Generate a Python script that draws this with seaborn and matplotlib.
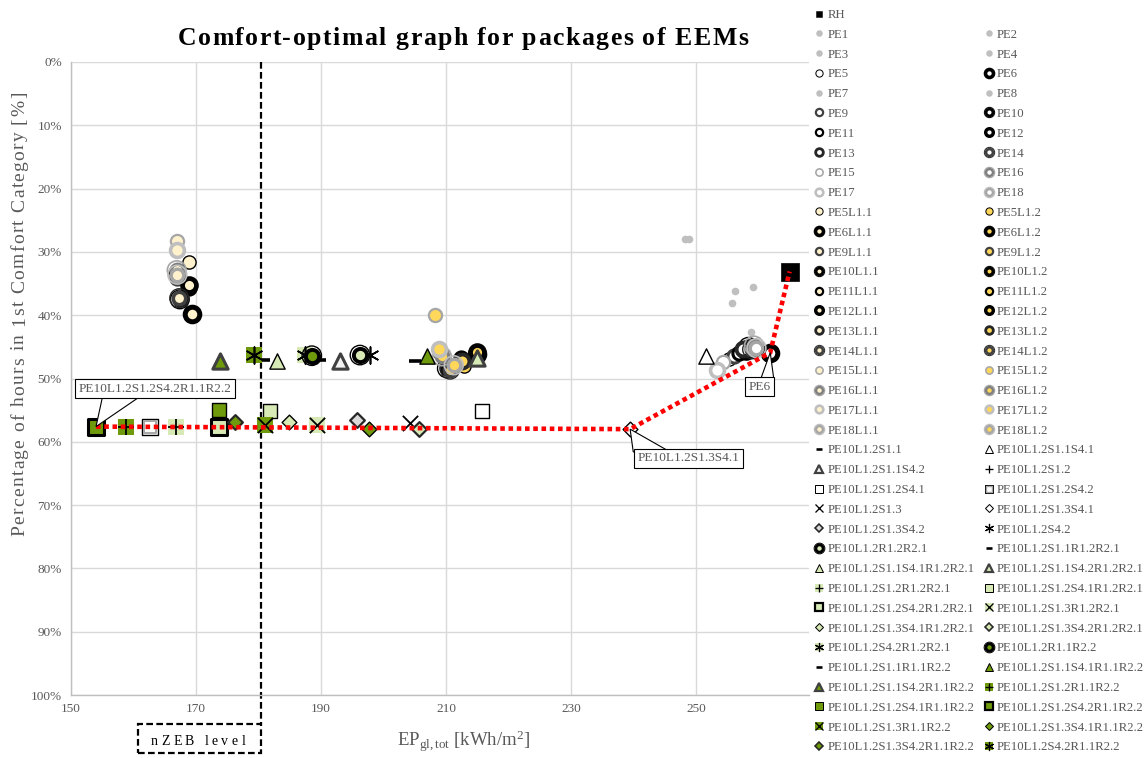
import re
import numpy as np
import pandas as pd
import matplotlib.pyplot as plt
import seaborn as sns
from matplotlib.lines import Line2D
from matplotlib.markers import MarkerStyle
from matplotlib.patches import Rectangle, Polygon

W, H = 1145, 758

# --- data: EP_gl,tot [kWh/m2] and % of hours in 1st comfort category ---
ref_names = ['RH']
ref_ep = [264.9]
ref_comfort = [33.1]

base_names = ['PE%d' % i for i in range(1, 19)]
base_ep = [248.2, 248.8, 256.1, 259.1, 255.2, 261.8, 255.7, 258.7, 256.0,
           258.3, 256.8, 258.0, 257.4, 258.9, 254.3, 259.2, 253.3, 259.6]
base_comfort = [27.9, 28.0, 36.2, 35.6, 46.9, 45.9, 38.0, 42.7, 46.4,
                45.0, 45.9, 45.6, 45.3, 45.4, 47.4, 44.8, 48.6, 45.2]

light_names = ['PE5L1.1', 'PE5L1.2', 'PE6L1.1', 'PE6L1.2', 'PE9L1.1', 'PE9L1.2',
               'PE10L1.1', 'PE10L1.2', 'PE11L1.1', 'PE11L1.2', 'PE12L1.1', 'PE12L1.2',
               'PE13L1.1', 'PE13L1.2', 'PE14L1.1', 'PE14L1.2', 'PE15L1.1', 'PE15L1.2',
               'PE16L1.1', 'PE16L1.2', 'PE17L1.1', 'PE17L1.2', 'PE18L1.1', 'PE18L1.2']
light_ep = [168.8, 212.8, 169.4, 214.9, 167.0, 209.0, 167.4, 210.1, 168.9, 212.3, 168.8, 214.9,
            167.0, 212.5, 167.3, 210.6, 166.9, 208.2, 166.9, 209.3, 166.9, 208.8, 167.0, 211.2]
light_comfort = [31.6, 48.1, 39.8, 46.2, 34.2, 45.8, 37.5, 48.4, 35.7, 46.8, 35.3, 45.8,
                 33.2, 47.3, 37.3, 48.6, 28.2, 40.0, 32.9, 46.5, 29.7, 45.4, 33.6, 47.9]

shade_codes = ['S1.1', 'S1.1S4.1', 'S1.1S4.2', 'S1.2', 'S1.2S4.1', 'S1.2S4.2',
               'S1.3', 'S1.3S4.1', 'S1.3S4.2', 'S4.2']
shade_names = ['PE10L1.2' + c for c in shade_codes]
shade_ep = [205.0, 251.6, 193.0, 162.6, 215.7, 162.6, 204.2, 239.4, 195.7, 197.8]
shade_comfort = [47.2, 46.5, 47.3, 57.6, 55.2, 57.6, 57.1, 58.0, 56.6, 46.3]

rad1_names = ['PE10L1.2' + c + 'R1.2R2.1' for c in [''] + shade_codes]
rad1_ep = [196.2, 189.8, 182.9, 214.9, 166.8, 181.8, 173.6, 189.3, 184.8, 205.6, 187.4]
rad1_comfort = [46.3, 47.1, 47.3, 46.8, 57.6, 55.2, 57.6, 57.3, 56.8, 57.9, 46.3]

rad2_names = ['PE10L1.2' + c + 'R1.1R2.2' for c in [''] + shade_codes]
rad2_ep = [188.5, 180.9, 206.9, 173.8, 158.8, 173.7, 154.0, 181.0, 197.6, 176.2, 179.2]
rad2_comfort = [46.4, 47.1, 46.5, 47.3, 57.6, 55.0, 57.6, 57.3, 57.9, 56.8, 46.3]

front_names = ['PE10L1.2S1.2S4.2R1.1R2.2', 'PE10L1.2S1.3S4.1', 'PE6', 'RH']
nzeb_level = 180.3

# callout: label, box centre (x, y), pointer base x1, x2 and y
callouts = [('PE10L1.2S1.2S4.2R1.1R2.2', 163.4, 51.6, 155.1, 161.4, 52.6),
            ('PE10L1.2S1.3S4.1', 248.7, 62.6, 239.9, 245.8, 61.6),
            ('PE6', 260.1, 51.3, 260.2, 262.4, 50.3)]

df = pd.DataFrame({
    'name': ref_names + base_names + light_names + shade_names + rad1_names + rad2_names,
    'ep': ref_ep + base_ep + light_ep + shade_ep + rad1_ep + rad2_ep,
    'comfort': ref_comfort + base_comfort + light_comfort + shade_comfort + rad1_comfort + rad2_comfort,
})

# --- marker styles (marker, size pt, face, edge, edge width) ---
LY, GOLD = '#FFF2CC', '#FFD75A'
LG, DG = '#D7EAB5', '#6E9A0C'
GREY = '#595959'

CIRCLES = {
    5: [('o', 9.5, None, 'black', 1.0)],
    6: [('o', 10.5, None, 'black', 3.6)],
    9: [('o', 9.5, None, '#404040', 2.2)],
    10: [('o', 13.5, 'none', 'black', 1.0), ('o', 9.0, None, 'black', 2.8)],
    11: [('o', 9.5, None, 'black', 2.2)],
    12: [('o', 10.0, None, 'black', 3.4)],
    13: [('o', 10.0, None, '#262626', 2.8)],
    14: [('o', 13.5, 'none', '#262626', 1.0), ('o', 9.0, None, '#404040', 2.6)],
    15: [('o', 9.5, None, '#A6A6A6', 1.6)],
    16: [('o', 13.5, 'none', '#A6A6A6', 1.2), ('o', 9.0, None, '#7F7F7F', 2.4)],
    17: [('o', 10.0, None, '#BFBFBF', 2.6)],
    18: [('o', 13.5, 'none', '#BFBFBF', 1.2), ('o', 9.0, None, '#A6A6A6', 2.4)],
}
STAR = (6, 2, 0)


def shade_layers(code, face):
    bg = [('s', 11, face, face, 0)] if face != 'white' else []
    plain = face == 'white'
    table = {
        'S1.1': [('_', 9, 'black', 'black', 2.6)],
        'S1.1S4.1': [('^', 11, face, 'black', 1.0)],
        'S1.1S4.2': [('^', 11, '#F2F2F2' if plain else face, '#404040', 2.2)],
        'S1.2': bg + [('+', 11, 'black', 'black', 1.3)],
        'S1.2S4.1': [('s', 10.5, face, 'black', 1.0)],
        'S1.2S4.2': ([('s', 11, 'white', 'black', 1.0), ('s', 8, 'white', '#A6A6A6', 1.4)]
                     if plain else [('s', 11, face, 'black', 2.2)]),
        'S1.3': bg + [('x', 11, 'black', 'black', 1.3)],
        'S1.3S4.1': [('D', 7.5, face, 'black', 1.0)],
        'S1.3S4.2': [('D', 7.5, '#D9D9D9' if plain else face, '#262626', 1.6)],
        'S4.2': bg + [(STAR, 12, 'black', 'black', 1.2)],
        '': [('o', 14, 'none', 'black', 1.0), ('o', 9.5, face, 'black', 2.8)],
    }
    return table[code]


def layers_for(name):
    if name == 'RH':
        return [('s', 13.5, 'black', 'black', 0.5)]
    m = re.fullmatch(r'PE(\d+)(L1\.(\d))?', name)
    if m:
        num = int(m.group(1))
        if num not in CIRCLES:
            return [('o', 5.5, '#BFBFBF', '#BFBFBF', 0)]
        face = {None: 'white', '1': LY, '2': GOLD}[m.group(3)]
        return [(mk, ms, face if fc is None else fc, ec, lw) for mk, ms, fc, ec, lw in CIRCLES[num]]
    code = name[len('PE10L1.2'):]
    face = 'white'
    if code.endswith('R1.2R2.1'):
        face, code = LG, code[:-8]
    elif code.endswith('R1.1R2.2'):
        face, code = DG, code[:-8]
    return shade_layers(code, face)


def legend_handle(name):
    k = 0.36 if name == 'RH' else (0.85 if name in ('PE1', 'PE2', 'PE3', 'PE4', 'PE7', 'PE8') else 0.55)
    parts = []
    for mk, ms, fc, ec, lw in layers_for(name):
        parts.append(Line2D([], [], ls='none', marker=mk, ms=ms * k, mfc=fc, mec=ec,
                            mew=lw * 0.72 if lw > 0 else 0))
    return tuple(parts)


def spaced_text(fig, s, center, base, gap, vertical=False, **kw):
    """Letter-spaced text (Excel style character spacing), centred on `center` px."""
    r = fig.canvas.get_renderer()

    def width(t):
        tt = fig.text(0, 0, t, **kw)
        w = tt.get_window_extent(r).width
        tt.remove()
        return w
    bar = width('|')
    total = width(s) + gap * (len(s) - 1)
    for i, ch in enumerate(s):
        if ch == ' ':
            continue
        off = (width(s[:i] + '|') - bar if i else 0.0) + gap * i
        if vertical:
            fig.text(base / W, 1 - (center + total / 2 - off) / H, ch, rotation=90,
                     rotation_mode='anchor', ha='left', va='baseline', **kw)
        else:
            fig.text((center - total / 2 + off) / W, 1 - base / H, ch,
                     ha='left', va='baseline', **kw)


sns.set_theme(style='whitegrid')
plt.rcParams['font.family'] = ['Liberation Serif', 'DejaVu Serif']
plt.rcParams['mathtext.fontset'] = 'custom'
plt.rcParams['mathtext.rm'] = 'Liberation Serif'
plt.rcParams['mathtext.it'] = 'Liberation Serif:italic'

fig = plt.figure(figsize=(W / 100, H / 100), dpi=100)
ax = fig.add_axes([71 / W, 1 - 695 / H, (809 - 71) / W, (695 - 62) / H])

# points, one series at a time
for z, row in enumerate(df.itertuples()):
    for j, (mk, ms, fc, ec, lw) in enumerate(layers_for(row.name)):
        kw = dict(x=[row.ep], y=[row.comfort], marker=mk, s=ms ** 2, linewidth=lw,
                  ax=ax, zorder=3 + z * 0.01 + j * 0.001, legend=False)
        if MarkerStyle(mk).is_filled():
            sns.scatterplot(color=ec if ec != 'none' else fc, facecolor=fc, edgecolor=ec, **kw)
        else:
            sns.scatterplot(color=ec, **kw)

# comfort-optimal (Pareto) line
front = df.set_index('name').loc[front_names]
ax.plot(front['ep'], front['comfort'], color='#FF0000', lw=3.3,
        linestyle=(0, (1, 0.8)), dash_capstyle='butt', zorder=5)

# nZEB limit
ax.plot([nzeb_level, nzeb_level], [0, 104.6], color='black', lw=1.6,
        linestyle=(0, (3, 1.5)), clip_on=False, zorder=2.5)
fig.patches.append(Rectangle((138 / W, 1 - 753 / H), (261 - 138) / W, (753 - 724) / H,
                             transform=fig.transFigure, fill=False, ec='black', lw=1.6,
                             linestyle=(0, (3, 1.5))))
spaced_text(fig, 'nZEB level', 198, 745, 3.4, fontsize=10, color='black')

# callouts (box + pointer wedge)
pts = df.set_index('name')
for name, tx, ty, bx1, bx2, by in callouts:
    tip = (pts.loc[name, 'ep'], pts.loc[name, 'comfort'])
    ax.add_patch(Polygon([tip, (bx1, by), (bx2, by)], closed=True, fc='white', ec='black',
                         lw=0.8, zorder=7, clip_on=False))
    ax.text(tx, ty, name, ha='center', va='center', fontsize=9.5, color=GREY, zorder=8,
            bbox=dict(boxstyle='square,pad=0.28', fc='white', ec='black', lw=0.8))

# axes
ax.set_xlim(150, 268)
ax.set_ylim(100, 0)
ax.set_xticks(range(150, 251, 20))
ax.set_yticks(range(0, 101, 10))
ax.set_yticklabels(['%d%%' % v for v in range(0, 101, 10)])
ax.tick_params(length=0, labelsize=9.5, labelcolor=GREY)
ax.tick_params(axis='y', pad=6.5)
ax.tick_params(axis='x', pad=5.5)
ax.grid(True, color='#D9D9D9', lw=1)
for side in ('top', 'right'):
    ax.spines[side].set_visible(False)
for side in ('left', 'bottom'):
    ax.spines[side].set_color('#BFBFBF')
    ax.spines[side].set_linewidth(1)

ax.set_xlabel(r'EP$_{\mathrm{gl,tot}}$ [kWh/m$^{\mathrm{2}}$]', fontsize=13.5, color=GREY)
ax.xaxis.set_label_coords((463 - 71) / 738, (695 - 729) / 633)
ax.set_ylabel('')
spaced_text(fig, 'Percentage of hours in 1st Comfort Category [%]', 314, 24, 1.3,
            vertical=True, fontsize=14, color=GREY)

spaced_text(fig, 'Comfort-optimal graph for packages of EEMs', 463, 45, 1.5,
            fontsize=18.5, fontweight='bold', color='black')

# legend: Excel fills row by row, matplotlib column by column
entries = [('RH', legend_handle('RH')), ('', Line2D([], [], alpha=0))]
entries += [(n, legend_handle(n)) for n in df['name'][1:]]
ordered = entries[0::2] + entries[1::2]
fig.legend([h for _, h in ordered], [l for l, _ in ordered], ncol=2, loc='upper left',
           bbox_to_anchor=(814 / W, 1 - 9 / H), frameon=False, fontsize=9.2,
           labelcolor=GREY, handlelength=0.8, handletextpad=0.25, columnspacing=0.7,
           labelspacing=0.61, borderaxespad=0, borderpad=0)

fig.savefig('out.png', dpi=100)
